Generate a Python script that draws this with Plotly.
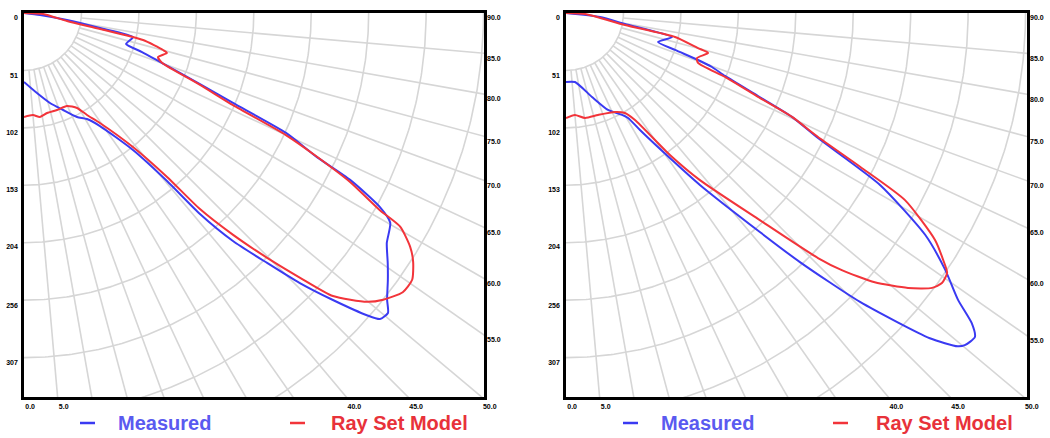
import numpy as np
import plotly.graph_objects as go

# ---------------- data (angle in degrees from nadir, intensity) ----------------
ANG_MEAS_L = [0, 9.2, 16.1, 21.9, 27.0, 30.7, 33.9, 38.5, 40.4, 41.2, 42.5, 44.2, 45.6, 47.1,
              48.6, 49.3, 50.5, 51.7, 53.7, 55.5, 57.6, 60.2, 61.4, 62.9, 63.8, 65.4, 66.7,
              68.0, 70.2, 71.7, 73.1, 77.6, 78.8, 80.8, 82.9, 90]
R_MEAS_L = [61.4, 72.2, 83.4, 93.1, 103.9, 109.8, 121.3, 155.9, 196.5, 237.9, 275.4, 310.5,
            343.8, 375.5, 407, 418, 420, 412, 402, 393, 382.6, 375.8, 361, 326.2, 290.7,
            256.6, 202.6, 169, 128.7, 110.7, 95, 99.4, 69, 38.8, 14.4, 0]

ANG_MODEL_L = [0, 5.0, 8.7, 13.0, 18.8, 24.8, 29.2, 31.7, 34.6, 39.1, 41.1, 41.9, 43.3, 44.8,
               46.2, 47.5, 49.9, 51.4, 53.6, 55.5, 57.4, 58.8, 60.4, 61.0, 62.6, 63.9, 65.0,
               66.2, 67.8, 70.1, 71.8, 74.4, 75.1, 77.2, 78.1, 79.5, 87, 90]
R_MODEL_L = [92.6, 91.2, 93.7, 91.4, 91.2, 91.2, 96.9, 106.8, 119, 153.8, 193.8, 234.6, 271.5,
             307.3, 340.7, 373.1, 399.4, 409.3, 419, 419.4, 411.3, 402, 385.2, 362.3, 327,
             289.5, 257.3, 203.4, 169.3, 131, 125.6, 132.2, 128.1, 108.7, 69.2, 38.9, 17, 0]

ANG_MEAS_R = [0, 7.4, 17.2, 23.4, 28.8, 30.6, 32.3, 35.6, 37.9, 41.5, 43.2, 45.5, 48.2, 49.6,
              50.2, 51.6, 52.6, 53.8, 55.9, 58.3, 61.3, 63.6, 65.3, 66.6, 68.4, 69.7, 70.4,
              71.3, 72.5, 77.2, 79.4, 83.3, 90]
R_MEAS_R = [61.4, 62, 78.3, 94.1, 103.6, 108.6, 123.3, 158.9, 194.1, 260.5, 304.3, 367.1,
            434.6, 458, 462.2, 464.6, 454.8, 432.6, 407.7, 375.9, 318.8, 250.5, 221.5, 186.3,
            152.3, 138.6, 124.8, 102.5, 85.9, 96.8, 53.4, 30.5, 0]

ANG_MODEL_R = [0, 5.0, 10.3, 17.4, 26.3, 30.5, 32.8, 36.2, 38.7, 43.1, 45.8, 47.0, 48.9, 51.2,
               53.1, 54.3, 55.7, 56.8, 58.4, 61.1, 62.4, 63.8, 65.3, 66.4, 68.1, 69.3, 71.0,
               74.3, 75.1, 77.6, 78.5, 87, 90]
R_MODEL_R = [93.5, 91.2, 95, 95.2, 98.4, 103.4, 113.4, 156.7, 190.7, 252.6, 313, 335.8, 364.8,
             390.8, 407.7, 412.2, 410.8, 401.3, 385.8, 344.8, 295.5, 250.1, 221.5, 186.6,
             152.6, 125.7, 123.3, 131.4, 121.6, 99.4, 53.6, 17, 0]

SERIES_NAMES = ["Measured", "Ray Set Model"]
LEFT_TICKS = [0, 51, 102, 153, 204, 256, 307]
RIGHT_TICK_ANGLES = [90, 85, 80, 75, 70, 65, 60, 55]
BOTTOM_TICK_ANGLES = [0, 5, 40, 45, 50]
RING_STEP = 51.15
RING_COUNT = 8
SPOKE_ANGLES = list(range(5, 90, 5))

# ---------------- styling ----------------
BLUE = "#3a3af2"
RED = "#f2343a"
BLUE_TXT = "#5a5af0"
RED_TXT = "#e8323a"
GRID = "#d6d6d6"
Y_MAX = 342.0
X_MAX = [409.6, 410.5]
DOMAINS_X = [[24 / 1050, 484 / 1050], [566 / 1050, 1027 / 1050]]
DOMAIN_Y = [1 - 397 / 438, 1 - 13 / 438]


def to_xy(ang, r):
    a = np.radians(np.array(ang, dtype=float))
    r = np.array(r, dtype=float)
    return r * np.sin(a), r * np.cos(a)


fig = go.Figure()

panels = [
    (ANG_MEAS_L, R_MEAS_L, ANG_MODEL_L, R_MODEL_L),
    (ANG_MEAS_R, R_MEAS_R, ANG_MODEL_R, R_MODEL_R),
]

tick_font = dict(family="Liberation Sans, Arial", size=7, color="black")

for i, (am, rm, ad, rd) in enumerate(panels):
    xa = "x" if i == 0 else "x2"
    ya = "y" if i == 0 else "y2"
    t = np.linspace(0, 90, 181)
    for k in range(1, RING_COUNT + 1):
        gx, gy = to_xy(t, [k * RING_STEP] * len(t))
        fig.add_trace(go.Scatter(x=gx, y=gy, mode="lines", line=dict(color=GRID, width=1.6),
                                 hoverinfo="skip", showlegend=False, xaxis=xa, yaxis=ya))
    for a in SPOKE_ANGLES:
        gx, gy = to_xy([a, a], [RING_STEP, 700])
        fig.add_trace(go.Scatter(x=gx, y=gy, mode="lines", line=dict(color=GRID, width=1.6),
                                 hoverinfo="skip", showlegend=False, xaxis=xa, yaxis=ya))
    mx, my = to_xy(am, rm)
    fig.add_trace(go.Scatter(x=mx, y=my, mode="lines", name=SERIES_NAMES[0],
                             line=dict(color=BLUE, width=2, shape="spline", smoothing=0.6),
                             showlegend=False, xaxis=xa, yaxis=ya))
    dx, dy = to_xy(ad, rd)
    fig.add_trace(go.Scatter(x=dx, y=dy, mode="lines", name=SERIES_NAMES[1],
                             line=dict(color=RED, width=2, shape="spline", smoothing=0.6),
                             showlegend=False, xaxis=xa, yaxis=ya))

layout = dict(
    width=1050, height=438, margin=dict(l=0, r=0, t=0, b=0),
    paper_bgcolor="white", plot_bgcolor="white", showlegend=False,
)

for i in range(2):
    sx = "" if i == 0 else "2"
    xm = X_MAX[i]
    bt_vals = [Y_MAX * np.tan(np.radians(a)) for a in BOTTOM_TICK_ANGLES]
    layout["xaxis" + sx] = dict(
        domain=DOMAINS_X[i], range=[0, xm], anchor="y" + sx, automargin=False,
        showgrid=False, zeroline=False, showline=True, linecolor="black", linewidth=2.5,
        mirror=True, ticks="", tickvals=bt_vals,
        ticktext=[f"<b>{a:.1f}</b>" for a in BOTTOM_TICK_ANGLES],
        tickfont=tick_font, ticklabelposition="outside right", ticklabelstandoff=1,
    )
    layout["yaxis" + sx] = dict(
        domain=DOMAIN_Y, range=[Y_MAX, 0], anchor="x" + sx, automargin=False,
        showgrid=False, zeroline=False, showline=True, linecolor="black", linewidth=2.5,
        mirror=True, ticks="", tickvals=LEFT_TICKS,
        ticktext=[f"<b>{v}</b>" for v in LEFT_TICKS],
        tickfont=tick_font, ticklabelposition="outside bottom", ticklabelstandoff=2,
    )
    rt_vals = [xm / np.tan(np.radians(a)) for a in RIGHT_TICK_ANGLES]
    layout["yaxis" + str(3 + i)] = dict(
        overlaying="y" + sx, side="right", anchor="x" + sx, range=[Y_MAX, 0],
        automargin=False, showgrid=False, zeroline=False, showline=False, ticks="",
        tickvals=rt_vals, ticktext=[f"<b>{a:.1f}</b>" for a in RIGHT_TICK_ANGLES],
        tickfont=tick_font, ticklabelposition="outside bottom", ticklabelstandoff=2,
    )

fig.update_layout(**layout)
for i in range(2):
    fig.add_trace(go.Scatter(x=[None], y=[None], xaxis="x" if i == 0 else "x2",
                             yaxis="y" + str(3 + i), showlegend=False, hoverinfo="skip"))

leg = [
    (80, 95, 117, 0), (290, 305, 330, 1),
    (623, 638, 660, 0), (833, 848, 875, 1),
]
ly = 1 - 423 / 438
for x0, x1, tx, si in leg:
    col = BLUE if si == 0 else RED
    tcol = BLUE_TXT if si == 0 else RED_TXT
    fig.add_shape(type="line", xref="paper", yref="paper", x0=x0 / 1050, x1=x1 / 1050,
                  y0=ly, y1=ly, line=dict(color=col, width=2.5))
    fig.add_annotation(x=tx / 1050, y=ly, xref="paper", yref="paper", xanchor="left",
                       yanchor="middle", showarrow=False, borderpad=0,
                       text=f"<b>{SERIES_NAMES[si]}</b>",
                       font=dict(family="Liberation Sans, Arial", size=20, color=tcol))

fig.write_html("out.html", config={"displayModeBar": False},
               post_script="document.body.style.margin='0';document.body.style.overflow='hidden';")
